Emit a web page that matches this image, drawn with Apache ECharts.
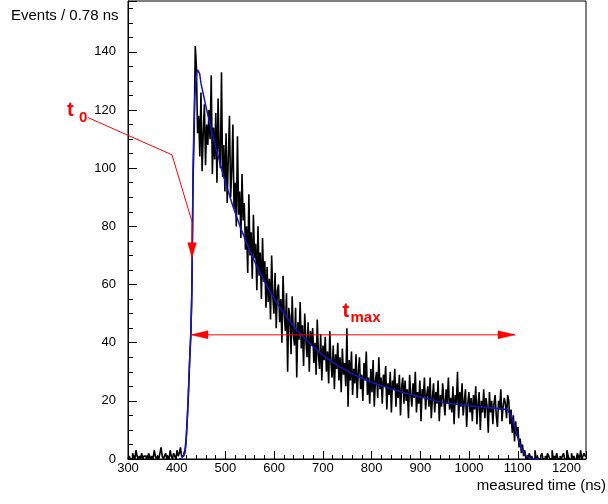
<!DOCTYPE html>
<html>
<head>
<meta charset="utf-8">
<script src="https://cdn.jsdelivr.net/npm/echarts@6/dist/echarts.min.js"></script>
<style>
html, body { margin: 0; padding: 0; background: #fff; }
#chart { width: 608px; height: 504px; }
</style>
</head>
<body>
<div id="chart"></div>
<script>
// histogram, one value every 3 bins (3 x 0.78 ns)
var binStart = 300;
var binWidth = 2.34;

var baseLeft = [0,1,0,0,2,1,0,3,1,0, 1,0,2,0,1,1,0,0,2,1, 0,1,0,3,1,0,1,0,2,4, 1,0,1,2,0,1,0,3,1,0, 2,1,0,3,1,2,4,1];
var rise = [1,2,3,7,14,22,33,42,58,95,112,142];
var decay = [135,112,
  118,104,126,99,112,122,101,115,108,120,
  110,132,98,114,103,119,95,124,106,100,
  133,97,108,92,112,88,104,118,90,99,
  115,86,95,80,111,84,92,76,98,82,
  88,72,80,64,91,70,78,62,84,69,
  74,58,80,63,71,55,76,61,68,52,
  66,54,62,48,70,56,50,64,45,58,
  60,47,55,40,63,50,44,57,30,52,
  49,36,56,43,39,52,28,47,41,54,
  38,46,32,50,41,35,47,30,44,39,
  45,33,40,29,48,36,31,43,27,39,34];
var plateau = [
  42,30,37,26,44,33,28,39,24,36,
  31,40,27,35,23,38,29,33,25,45,
  18,34,27,37,22,31,26,36,21,30,
  35,24,29,20,33,27,37,22,28,19,
  31,23,34,18,27,30,21,35,24,28,
  19,29,25,32,17,26,22,30,16,27,
  24,31,18,26,21,29,15,25,28,19,
  27,20,24,14,29,22,18,26,21,30,
  16,23,19,27,13,24,21,28,17,22,
  25,18,28,14,21,26,16,23,19,27,
  13,22,18,26,20,15,24,19,28,17,
  21,16,25,12,22,19,30,14,23,18,
  26,15,20,24,11,19,23,16,21,13,
  22,17,25,12,19,23,10,20,16,24,
  14,21,18,9,23,16,20,12,19,22,
  15,11,20,17,24,13,18,21,19,14,22];
var fall = [20,12,17,9,15,6,13,8,11,4,7,2,5,1,3,0,1];
var baseRight = [0,2,0,1,0,0,3,0,1,0, 0,1,2,0,0,1,0,2,1,0, 0,3,0,1,0,2,0,0,1,0, 1,2,0,0,3,1,0,0,2,0, 1,0,0,2,1,0,3,0,1,2, 1];

// fitted curve (blue)
var fitTime = [405,410,414,417,419,421,423,425,427,429,
  430.5,431.5,432.5,433.5,435,437,439,441,443,445,
  447,450,455,460,470,480,490,500,515,530,
  550,570,590,610,630,650,675,700,730,760,
  800,850,900,950,1000,1050,1078,1082,1086,1090,
  1094,1098,1102,1105,1110,1115,1120,1125,1135,1145];
var fitValue = [0,0.2,0.8,2,5,11,19,28,36,43,
  52,62,80,100,113,124,129.5,132.5,133.8,133.8,
  132.5,129.0,125.1,121.2,114.0,107.2,101.0,95.1,87.1,80.0,
  71.5,64.3,57.9,52.5,47.8,43.7,39.4,35.7,32.2,29.3,
  26.3,23.6,21.3,19.3,18.3,17.5,17.0,16.5,15.0,13.0,
  11.0,8.5,6.2,4.8,2.8,1.4,0.7,0.3,0.1,0];

// axes
var xMin = 300, xMax = 1240, xStep = 100;
var yMin = 0, yMax = 157.5, yStep = 20;

// annotations, in data units
var t0Leader = [[218, 117.4], [390.3, 104.6], [431.4, 81.6]];
var t0Arrow = [[431.4, 81.6], [431.4, 69.2]];
var tmaxArrow = [[429.3, 42.7], [1094.3, 42.7]];
var t0Label = [174.8, 119.8];
var tmaxLabel = [740.3, 50.9];

var font = "'Liberation Sans', Arial, Helvetica, sans-serif";
var red = '#ff0000';

var chart = echarts.init(document.getElementById('chart'));

var counts = baseLeft.concat(rise, decay, plateau, fall, baseRight);
var histData = [];
for (var i = 0; i < counts.length; i++) {
  histData.push([binStart + i * binWidth, counts[i]]);
}
histData.push([binStart + counts.length * binWidth, counts[counts.length - 1]]);

var fitData = [];
for (var j = 0; j < fitTime.length; j++) {
  fitData.push([fitTime[j], fitValue[j]]);
}

function plain(v) { return String(v); }

var option = {
  animation: false,
  grid: {
    left: 128, right: 22, top: 1, bottom: 45,
    show: true, borderColor: '#000', borderWidth: 1
  },
  xAxis: {
    type: 'value',
    min: xMin, max: xMax, interval: xStep,
    axisLine: { lineStyle: { color: '#000', width: 1 } },
    axisTick: { inside: true, length: 8, lineStyle: { color: '#000' } },
    minorTick: { show: true, splitNumber: 5, length: 4, lineStyle: { color: '#000' } },
    axisLabel: { color: '#000', fontSize: 13, fontFamily: font, margin: 3, showMaxLabel: false, formatter: plain },
    splitLine: { show: false }
  },
  yAxis: {
    type: 'value',
    min: yMin, max: yMax, interval: yStep,
    axisLine: { lineStyle: { color: '#000', width: 1 } },
    axisTick: { inside: true, length: 9, lineStyle: { color: '#000' } },
    minorTick: { show: true, splitNumber: 4, length: 5, lineStyle: { color: '#000' } },
    axisLabel: { color: '#000', fontSize: 13, fontFamily: font, margin: 12, showMaxLabel: false, formatter: plain },
    splitLine: { show: false }
  },
  series: [
    {
      type: 'line',
      data: histData,
      step: 'end',
      symbol: 'none',
      lineStyle: { color: '#000', width: 1.6 },
      z: 2,
      silent: true
    },
    {
      type: 'line',
      data: fitData,
      symbol: 'none',
      lineStyle: { color: '#1414c8', width: 1.5 },
      z: 3,
      silent: true
    }
  ]
};
chart.setOption(option);

function px(p) {
  return chart.convertToPixel({ gridIndex: 0 }, p);
}

function arrowHead(from, tip, len, half) {
  var dx = tip[0] - from[0], dy = tip[1] - from[1];
  var d = Math.sqrt(dx * dx + dy * dy);
  var ux = dx / d, uy = dy / d;
  var bx = tip[0] - ux * len, by = tip[1] - uy * len;
  return {
    type: 'polygon',
    shape: { points: [tip, [bx - uy * half, by + ux * half], [bx + uy * half, by - ux * half]] },
    style: { fill: red, stroke: red, lineWidth: 0.5 },
    z: 100
  };
}

var leader = t0Leader.map(px);
var a0 = t0Arrow.map(px);
var am = tmaxArrow.map(px);
var l0 = px(t0Label);
var lm = px(tmaxLabel);

var elements = [
  {
    type: 'polyline',
    shape: { points: leader },
    style: { stroke: red, lineWidth: 1, fill: null },
    z: 100
  },
  {
    type: 'line',
    shape: { x1: a0[0][0], y1: a0[0][1], x2: a0[1][0], y2: a0[1][1] },
    style: { stroke: red, lineWidth: 1 },
    z: 100
  },
  arrowHead(a0[0], a0[1], 15, 4.3),
  {
    type: 'line',
    shape: { x1: am[0][0], y1: am[0][1], x2: am[1][0], y2: am[1][1] },
    style: { stroke: red, lineWidth: 1 },
    z: 100
  },
  arrowHead(am[1], am[0], 17, 4),
  arrowHead(am[0], am[1], 17, 4),
  {
    type: 'text', x: l0[0], y: l0[1], z: 101,
    style: { text: 't', fill: red, font: 'bold 20px ' + font, verticalAlign: 'middle', align: 'left' }
  },
  {
    type: 'text', x: l0[0] + 12, y: l0[1] + 7.5, z: 101,
    style: { text: '0', fill: red, font: 'bold 15px ' + font, verticalAlign: 'middle', align: 'left' }
  },
  {
    type: 'text', x: lm[0], y: lm[1], z: 101,
    style: { text: 't', fill: red, font: 'bold 20px ' + font, verticalAlign: 'middle', align: 'left' }
  },
  {
    type: 'text', x: lm[0] + 8, y: lm[1] + 6.7, z: 101,
    style: { text: 'max', fill: red, font: 'bold 15px ' + font, verticalAlign: 'middle', align: 'left' }
  },
  {
    type: 'text', x: 11, y: 16.3, z: 101,
    style: { text: 'Events / 0.78 ns', fill: '#000', font: '15px ' + font, verticalAlign: 'middle', align: 'left' }
  },
  {
    type: 'text', x: 606, y: 485.8, z: 101,
    style: { text: 'measured time (ns)', fill: '#000', font: '15px ' + font, verticalAlign: 'middle', align: 'right' }
  }
];

chart.setOption({ graphic: { elements: elements } });
</script>
</body>
</html>
